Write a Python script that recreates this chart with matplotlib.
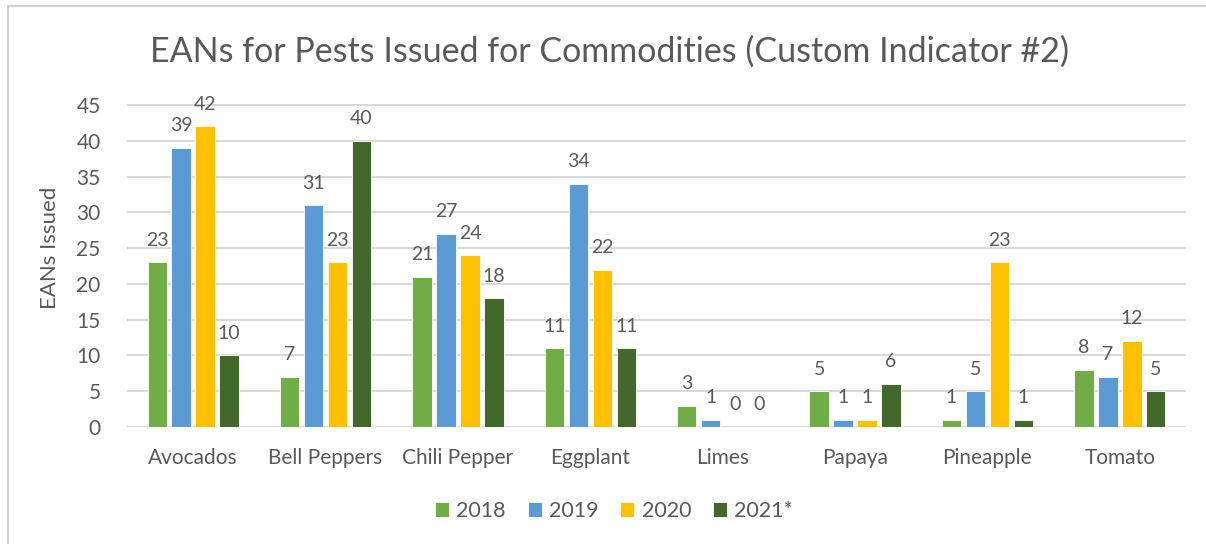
import numpy as np
import matplotlib.pyplot as plt
from matplotlib.patches import Rectangle

plt.rcParams['font.family'] = ['Lato', 'DejaVu Sans']

categories = ["Avocados", "Bell Peppers", "Chili Pepper", "Eggplant",
              "Limes", "Papaya", "Pineapple", "Tomato"]
years = ["2018", "2019", "2020", "2021*"]
v2018 = [23, 7, 21, 11, 3, 5, 1, 8]
v2019 = [39, 31, 27, 34, 1, 1, 5, 7]
v2020 = [42, 23, 24, 22, 0, 1, 23, 12]
v2021 = [10, 40, 18, 11, 0, 6, 1, 5]
colors = ["#70AD47", "#5B9BD5", "#FFC000", "#43682B"]

txt = "#595959"
grid = "#D9D9D9"

fig = plt.figure(figsize=(12.06, 5.44), dpi=100)
ax = fig.add_axes([127/1206, 1 - 427/544, (1186 - 127)/1206, 322/544 * 50/45])

# chart frame
fig.patches.append(Rectangle((8/1206, -0.05), 1.2, 1 - 6/544 + 0.05,
                             transform=fig.transFigure, fill=False,
                             edgecolor="#D0D0D0", linewidth=1.5))

x = np.arange(len(categories))
step = 0.181
w = 0.147
for i, (vals, c, lab) in enumerate(zip([v2018, v2019, v2020, v2021], colors, years)):
    pos = x + (i - 1.5) * step
    ax.bar(pos, vals, width=w, color=c, label=lab, edgecolor="white",
           linewidth=0.6, zorder=3)
    for p, v in zip(pos, vals):
        ax.annotate(str(v), (p, v), xytext=(0, 12), textcoords="offset points",
                    ha="center", va="baseline", fontsize=14, color=txt)

ax.set_xlim(-0.5, len(categories) - 0.5)
ax.set_ylim(0, 50)
ax.set_yticks(range(0, 50, 5))
ax.set_xticks(x)
ax.set_xticklabels(categories)
ax.tick_params(axis="both", length=0, labelsize=15, colors=txt)
ax.tick_params(axis="x", pad=15)
ax.tick_params(axis="y", pad=19)
for s in ax.spines.values():
    s.set_visible(False)
for yv in range(0, 50, 5):
    ax.axhline(yv, color=grid, linewidth=1.5, zorder=1)

ax.set_ylabel("EANs Issued", fontsize=16, color=txt, labelpad=12)

fig.text(610/1206, 1 - 52/544, "EANs for Pests Issued for Commodities (Custom Indicator #2)",
         ha="center", va="center", fontsize=24.5, color=txt)

ax.legend(loc="center", bbox_to_anchor=(614/1206, 1 - 511/544), bbox_transform=fig.transFigure,
          ncol=4, frameon=False, fontsize=15.5, labelcolor=txt, handlelength=0.65,
          handleheight=0.65, handletextpad=0.35, columnspacing=1.0)

fig.savefig("out.png", dpi=100)
